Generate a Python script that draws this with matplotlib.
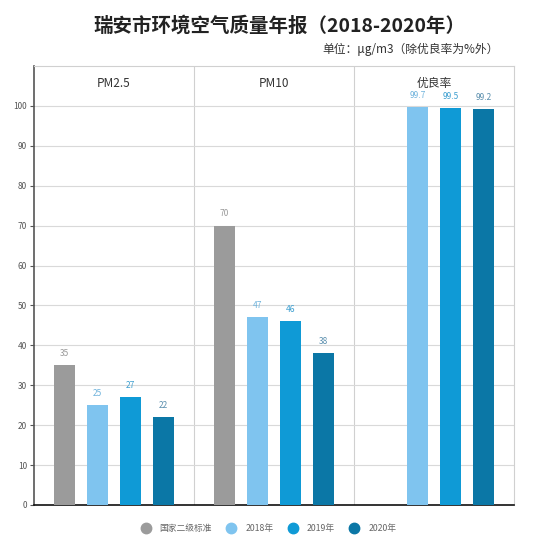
import numpy as np
import matplotlib
matplotlib.use("Agg")
from matplotlib import pyplot as plt
from matplotlib.lines import Line2D

plt.rcParams['font.family'] = ['Noto Sans CJK SC', 'DejaVu Sans']

groups = ["PM2.5", "PM10", "优良率"]
series = ["国家二级标准", "2018年", "2019年", "2020年"]
standard = [35, 70, 0]
y2018 = [25, 47, 99.7]
y2019 = [27, 46, 99.5]
y2020 = [22, 38, 99.2]
values = [standard, y2018, y2019, y2020]
labels = [["35", "70", ""], ["25", "47", "99.7"], ["27", "46", "99.5"], ["22", "38", "99.2"]]

bar_colors = ["#9b9b9b", "#7fc4ef", "#0f9ad6", "#0b77a6"]
text_colors = ["#999999", "#6fb3dc", "#3d9fd0", "#5b8fae"]

fig = plt.figure(figsize=(5.33, 5.45), dpi=100)
ax = fig.add_axes([0.0638, 0.0734, 0.9006, 0.8055])

x = np.arange(len(groups))
step = 0.206
width = 0.132
for i, vals in enumerate(values):
    pos = x + (i - 1.5) * step
    ax.bar(pos, vals, width=width, color=bar_colors[i], zorder=3)
    for p, v, lab in zip(pos, vals, labels[i]):
        if lab:
            ax.text(p, v + 1.8, lab, ha="center", va="bottom", fontsize=6,
                    color=text_colors[i])

ax.set_xlim(-0.5, 2.5)
ax.set_ylim(0, 110)
ax.set_yticks(np.arange(0, 101, 10))
ax.tick_params(axis="y", labelsize=6, length=3, width=0.8, colors="#555555", pad=2)
ax.set_xticks([])
ax.yaxis.grid(True, color="#d9d9d9", linewidth=0.8, zorder=0)
for d in [0.5, 1.5]:
    ax.axvline(d, color="#d0d0d0", linewidth=0.8, zorder=1)

for i, g in enumerate(groups):
    ax.text(x[i], 105.5, g, ha="center", va="center", fontsize=8.5, color="#333333")

ax.spines["left"].set_color("#555555")
ax.spines["left"].set_linewidth(1.2)
ax.spines["bottom"].set_color("#111111")
ax.spines["bottom"].set_linewidth(1.2)
ax.spines["top"].set_color("#d0d0d0")
ax.spines["right"].set_color("#d0d0d0")

fig.text(0.525, 0.953, "瑞安市环境空气质量年报（2018-2020年）", ha="center", va="center",
         fontsize=14, fontweight="bold", color="#222222")
fig.text(0.935, 0.909, "单位：μg/m3（除优良率为%外）", ha="right", va="center",
         fontsize=8.5, color="#333333")

handles = [Line2D([], [], marker="o", linestyle="none", markersize=7.5,
                  markerfacecolor=c, markeredgecolor=c) for c in bar_colors]
fig.legend(handles, series, loc="center", bbox_to_anchor=(0.5, 0.031), ncol=4,
           frameon=False, fontsize=6.3, handletextpad=0.6, columnspacing=1.2,
           labelcolor="#666666")

fig.savefig("out.png", dpi=100)
